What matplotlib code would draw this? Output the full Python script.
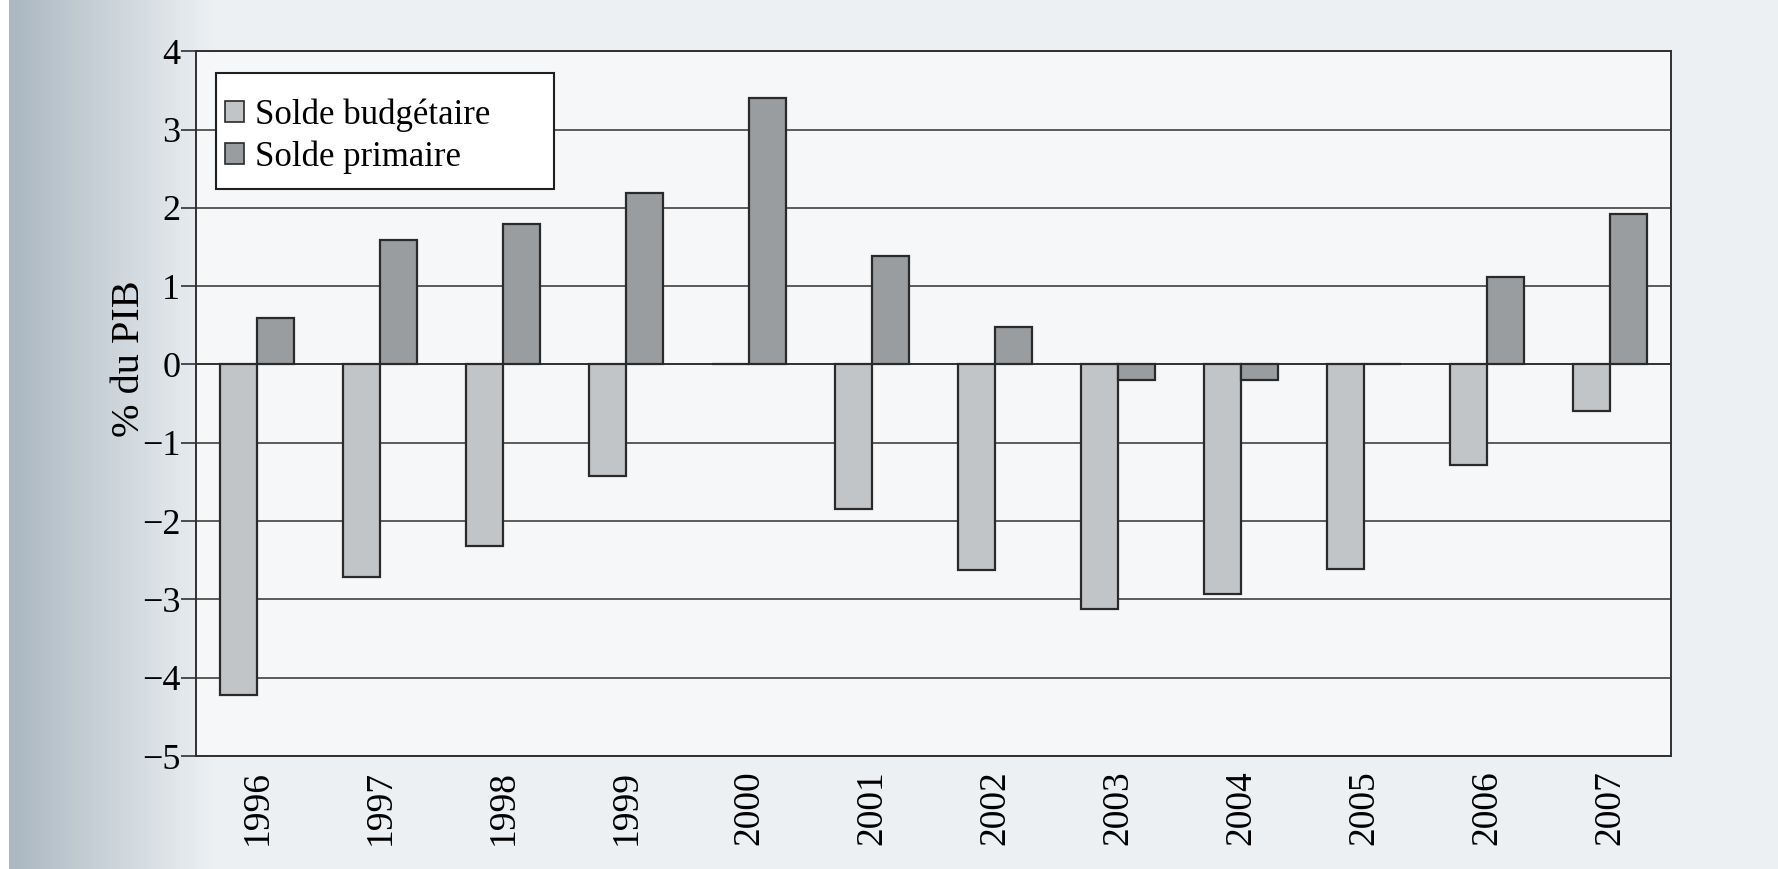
import numpy as np
import matplotlib
matplotlib.use("Agg")
import matplotlib.pyplot as plt
from matplotlib.patches import Patch, Rectangle

plt.rcParams["font.family"] = ["Liberation Serif", "DejaVu Serif"]

# ---------------------------------------------------------------- données (% du PIB)
years = ["1996", "1997", "1998", "1999", "2000", "2001",
         "2002", "2003", "2004", "2005", "2006", "2007"]
solde_budget = [-4.22, -2.72, -2.32, -1.42, 0.0, -1.84,
                -2.62, -3.12, -2.93, -2.61, -1.28, -0.60]
solde_primaire = [0.59, 1.59, 1.80, 2.19, 3.40, 1.38,
                  0.48, -0.20, -0.20, 0.0, 1.12, 1.92]
yticks = [4, 3, 2, 1, 0, -1, -2, -3, -4, -5]

C_BUD = "#c2c5c7"
C_PRI = "#9a9d9f"
C_EDGE = "#2a2a2a"
C_BG = "#eef1f3"

fig = plt.figure(figsize=(17.78, 8.69), dpi=100)
fig.patch.set_facecolor(C_BG)

# fond: léger dégradé à gauche (effet de numérisation)
bg = fig.add_axes([0, 0, 1, 1], zorder=-10)
grad = np.linspace(0, 1, 400)
shade = np.clip(grad / 0.12, 0, 1)
base = np.array([0.66, 0.71, 0.75])
light = np.array([0.93, 0.945, 0.955])
img = base[None, :] * (1 - shade[:, None]) + light[None, :] * shade[:, None]
img[:2] = 1.0
bg.imshow(img[None, :, :], aspect="auto", extent=(0, 1, 0, 1))
bg.set_axis_off()

ax = fig.add_axes([0.110, 0.130, 0.830, 0.811])
ax.set_facecolor("#f6f7f8")

x = np.arange(len(years))
w = 0.3
ax.bar(x - w / 2, solde_budget, w, color=C_BUD, edgecolor=C_EDGE, lw=1.6,
       zorder=3, label="Solde budgétaire")
ax.bar(x + w / 2, solde_primaire, w, color=C_PRI, edgecolor=C_EDGE, lw=1.6,
       zorder=3, label="Solde primaire")

for t in yticks:
    ax.axhline(t, color="#303030", lw=1.4 if t == 0 else 1.1, zorder=1)

ax.set_xlim(-0.5, len(years) - 0.5)
ax.set_ylim(-5, 4)
ax.set_yticks(yticks)
ax.set_yticklabels([str(t).replace("-", "\u2212") for t in yticks], fontsize=26)
ax.set_xticks(x)
ax.set_xticklabels(years, rotation=90, fontsize=27)
ax.tick_params(axis="x", length=0, pad=10)
ax.tick_params(axis="y", length=11, width=1.2, color="#303030", pad=0)
for s in ax.spines.values():
    s.set_color("#303030")
    s.set_linewidth(1.4)

ax.set_ylabel("% du PIB", fontsize=29)
ax.yaxis.set_label_coords(-0.032, 0.564)

# cadre de la légende (marge droite large comme dans l'original)
ax.add_patch(Rectangle((0.0136, 0.804), 0.229, 0.165, transform=ax.transAxes,
                       fc="white", ec="#202020", lw=1.5, zorder=4))
handles = [Patch(fc=C_BUD, ec=C_EDGE, lw=1.2, label="Solde budgétaire"),
           Patch(fc=C_PRI, ec=C_EDGE, lw=1.2, label="Solde primaire")]
leg = ax.legend(handles=handles, loc="upper left", bbox_to_anchor=(0.020, 0.933),
                fontsize=25, frameon=False, handlelength=0.55, handleheight=0.55,
                handletextpad=0.3, borderpad=0, labelspacing=0.25, borderaxespad=0)
leg.set_zorder(5)

fig.savefig("out.png", dpi=100, facecolor=fig.get_facecolor())
